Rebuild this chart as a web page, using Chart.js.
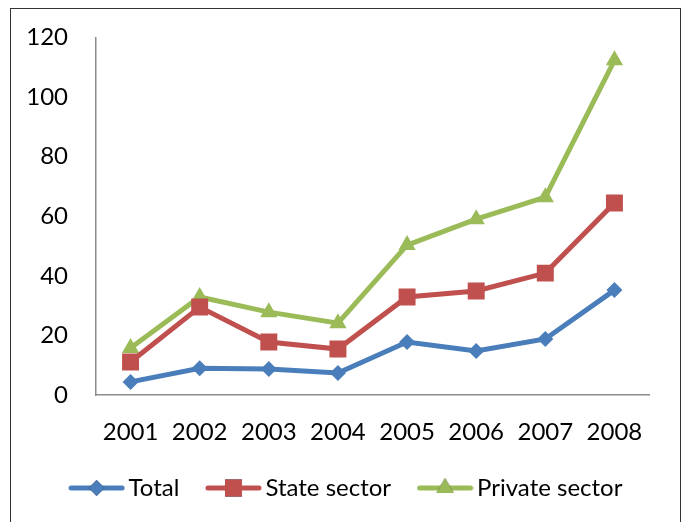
<!DOCTYPE html>
<html>
<head>
<meta charset="utf-8">
<script src="https://cdn.jsdelivr.net/npm/chart.js@4/dist/chart.umd.min.js"></script>
<style>
  html, body { margin: 0; padding: 0; background: #fff; }
  #wrap { position: relative; width: 684px; height: 522px; overflow: hidden; }
  #frame { position: absolute; left: 10px; top: 8px; width: 671px; height: 530px; border: 1.5px solid #333; box-sizing: border-box; }
  canvas { position: absolute; left: 0; top: -5px; }
</style>
</head>
<body>
<div id="wrap">
  <div id="frame"></div>
  <canvas id="c" width="684" height="527"></canvas>
</div>
<script>
const years = ["2001", "2002", "2003", "2004", "2005", "2006", "2007", "2008"];
const totalValues = [4.4, 9.0, 8.7, 7.4, 17.8, 14.8, 18.8, 35.2];
const stateValues = [11.1, 29.5, 17.8, 15.4, 32.9, 34.9, 40.9, 64.4];
const privateValues = [15.8, 32.9, 27.8, 24.1, 50.3, 59.0, 66.4, 112.3];
const seriesNames = ["Total", "State sector", "Private sector"];
const yTicks = [0, 20, 40, 60, 80, 100, 120];

const colors = ["#4a7ebb", "#c0504d", "#9bbb59"];
const styles = ["rectRot", "rect", "triangle"];
const radii = [8, 12, 10];
const FONT = "Lato, 'Open Sans', sans-serif";
const FSIZE = 24;

function legendIcon(color, style, r) {
  const w = 57, h = 26;
  const cv = document.createElement('canvas');
  cv.width = w; cv.height = h;
  const ctx = cv.getContext('2d');
  ctx.strokeStyle = color; ctx.lineWidth = 5; ctx.lineCap = 'round';
  ctx.beginPath(); ctx.moveTo(3, h / 2); ctx.lineTo(w - 3, h / 2); ctx.stroke();
  Chart.helpers.drawPoint(ctx, { pointStyle: style, radius: r, borderWidth: 0, rotation: 0 }, w / 2, h / 2);
  ctx.fillStyle = color; ctx.fill();
  return cv;
}

const allValues = [totalValues, stateValues, privateValues];
const datasets = allValues.map((vals, i) => ({
  label: seriesNames[i],
  data: vals,
  borderColor: colors[i],
  backgroundColor: colors[i],
  borderWidth: 5,
  pointStyle: styles[i],
  pointRadius: radii[i],
  pointHoverRadius: radii[i],
  pointBorderWidth: 0,
  tension: 0
}));

const icons = datasets.map((d, i) => legendIcon(colors[i], styles[i], radii[i]));

const shiftLegend = {
  id: 'shiftLegend',
  afterLayout(chart) {
    const l = chart.legend;
    if (l) { l.left += 15; l.right += 15; }
  }
};

new Chart(document.getElementById('c'), {
  type: 'line',
  data: { labels: years, datasets: datasets },
  plugins: [shiftLegend],
  options: {
    responsive: false,
    animation: false,
    devicePixelRatio: 1,
    layout: { padding: { left: 20, right: 35, top: 37, bottom: 12 } },
    plugins: {
      tooltip: { enabled: false },
      legend: {
        position: 'bottom',
        labels: {
          usePointStyle: true,
          pointStyleWidth: 40,
          boxHeight: 20,
          padding: 34,
          color: '#000',
          font: { family: FONT, size: FSIZE },
          generateLabels: (chart) => chart.data.datasets.map((d, i) => ({
            text: d.label,
            pointStyle: icons[i],
            fillStyle: colors[i],
            strokeStyle: colors[i],
            lineWidth: 0,
            hidden: false,
            datasetIndex: i,
            fontColor: '#000'
          }))
        }
      }
    },
    scales: {
      x: {
        offset: true,
        grid: { display: false, drawTicks: false },
        border: { display: true, color: '#8c8c8c', width: 1.5 },
        ticks: { color: '#000', font: { family: FONT, size: FSIZE }, padding: 23, maxRotation: 0 },
        afterFit: (s) => { s.height = 47; }
      },
      y: {
        min: 0, max: 120,
        afterBuildTicks: (s) => { s.ticks = yTicks.map(v => ({ value: v })); },
        grid: { display: false, drawTicks: false },
        border: { display: true, color: '#8c8c8c', width: 1.5 },
        ticks: { color: '#000', font: { family: FONT, size: FSIZE }, padding: 28 },
        afterFit: (s) => { s.width = 76; }
      }
    }
  }
});
</script>
</body>
</html>
